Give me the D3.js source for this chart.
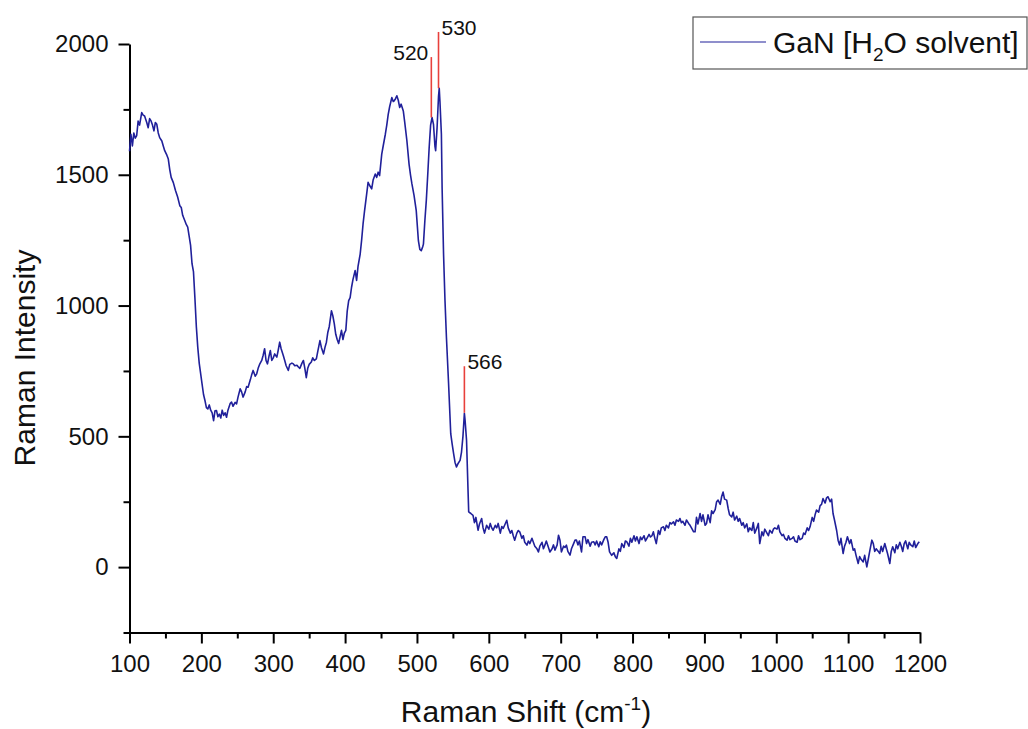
<!DOCTYPE html>
<html><head><meta charset="utf-8">
<script src="https://cdn.jsdelivr.net/npm/d3@7"></script>
<style>
html,body{margin:0;padding:0;background:#fff;}
svg{display:block;font-family:"Liberation Sans",Arial,sans-serif;}
</style></head>
<body><svg id="c" width="1028" height="729"></svg>
<script>
const ramanShift = [100,102,104,106,108,110,112,114,117,119,121,124,126,128,130,132,134,136,138,140,142,145,147,149,152,154,156,158,161,164,167,170,172,174,177,179,181,183,185,187,189,191,193,195,197,199,201,203,205,207,209,211,213,215,217,219,221,223,225,227,229,231,233,235,237,240,242,244,247,249,251,254,256,258,261,263,265,268,270,272,275,277,279,281,284,286,288,290,292,294,296,298,300,302,305,307,309,311,314,316,318,321,323,326,328,330,333,335,337,340,342,344,346,348,350,353,355,357,360,362,365,367,370,372,374,376,378,381,383,385,387,389,391,393,395,397,399,401,403,405,407,409,411,414,416,418,421,423,425,427,430,432,434,437,439,442,444,446,448,451,453,456,458,460,462,465,467,468,470,472,474,476,478,481,483,486,489,491,493,496,499,502,504,506,508,509,511,513,515,517,519,521,523,525,526,528,530,531,532,534,535,537,539,541,544,547,549,551,553,555,557,560,562,564,566,567,569,571,572,575,578,580,582,585,587,590,592,594,597,600,602,604,606,609,611,613,616,618,620,622,625,627,630,632,634,636,639,641,643,646,648,650,653,655,657,660,662,664,667,669,671,674,676,678,680,683,685,688,690,692,695,697,699,701,704,706,708,710,713,715,718,720,722,724,726,729,731,734,736,738,741,743,746,748,750,753,755,757,760,762,764,766,768,771,774,776,778,781,783,785,788,790,792,795,797,799,802,804,806,809,811,813,816,818,820,823,825,827,829,831,833,836,838,840,843,845,847,850,852,854,857,859,861,864,866,868,870,873,875,878,880,882,885,887,889,891,894,896,898,901,903,905,908,910,912,915,917,919,922,924,926,928,931,933,935,938,940,942,945,947,949,952,954,956,959,961,963,966,968,970,973,975,977,980,982,984,987,989,991,994,996,998,1001,1003,1005,1008,1010,1012,1015,1017,1019,1022,1024,1026,1029,1031,1033,1036,1038,1040,1043,1045,1047,1050,1052,1054,1056,1059,1061,1063,1065,1068,1070,1072,1075,1077,1079,1081,1084,1086,1088,1090,1093,1095,1097,1099,1102,1104,1107,1109,1111,1114,1116,1118,1121,1123,1126,1128,1130,1133,1135,1137,1139,1142,1144,1146,1148,1151,1153,1155,1158,1160,1162,1165,1167,1169,1172,1174,1176,1178,1180,1183,1185,1187,1190,1192,1194,1197,1199];
const intensity = [1590,1655,1610,1660,1640,1650,1705,1690,1738,1728,1725,1700,1680,1715,1706,1690,1668,1700,1693,1660,1642,1629,1610,1592,1575,1560,1520,1490,1470,1440,1415,1382,1375,1345,1324,1310,1300,1265,1230,1160,1130,1030,920,840,780,740,700,660,637,610,605,620,600,590,560,598,599,575,585,570,600,580,590,573,600,625,631,615,630,624,650,682,670,650,670,690,688,715,735,752,730,739,760,775,790,810,835,790,777,805,828,790,800,815,803,830,860,835,809,790,770,752,775,780,777,770,772,765,760,780,790,760,724,760,775,784,800,790,796,825,866,840,815,840,860,898,920,980,960,930,890,870,855,880,905,870,895,905,980,1019,1030,1070,1100,1134,1096,1150,1197,1250,1312,1360,1426,1471,1460,1446,1480,1503,1490,1510,1497,1579,1610,1655,1690,1731,1760,1795,1780,1782,1790,1802,1785,1757,1770,1744,1700,1630,1541,1500,1465,1420,1363,1248,1215,1210,1225,1235,1324,1401,1500,1604,1690,1719,1693,1610,1592,1680,1800,1831,1780,1655,1450,1198,1020,880,702,510,470,434,400,383,395,408,440,500,588,560,485,300,211,205,198,170,190,141,165,186,150,130,160,145,167,150,141,160,150,167,130,155,148,160,179,150,130,140,120,103,130,140,135,110,120,95,84,100,90,110,95,80,70,58,80,95,70,84,100,75,58,70,85,65,84,122,103,58,80,75,84,60,46,70,90,103,103,85,100,58,116,116,90,105,80,95,97,85,100,78,97,85,105,116,116,95,58,45,55,40,33,70,60,90,75,100,97,80,110,95,120,100,116,90,115,105,120,100,110,125,115,120,135,110,90,140,125,150,154,140,160,150,170,165,173,160,180,175,186,170,175,160,180,167,160,150,135,135,190,165,205,175,200,160,167,200,170,215,205,220,250,256,240,270,287,260,256,225,200,192,210,180,195,175,186,160,170,150,165,135,150,140,170,130,150,167,90,135,120,145,130,120,141,130,145,150,145,160,135,120,125,110,103,120,105,110,116,100,95,120,105,110,130,125,150,140,154,190,175,200,218,210,235,240,262,245,265,269,250,260,205,180,140,103,85,110,52,80,95,116,90,105,65,70,45,14,40,30,20,45,1,30,60,103,90,60,70,60,52,80,60,90,70,50,14,60,78,55,85,70,95,80,60,90,100,70,95,85,78,100,75,90,97];

const peakShift = [520, 530, 566];
const peakLabel = ["520", "530", "566"];
const peakBase = [1719, 1831, 590];
const peakTop = [1950, 2046, 768];

const xMajor = [100,200,300,400,500,600,700,800,900,1000,1100,1200];
const xMinor = [150,250,350,450,550,650,750,850,950,1050,1150];
const yMajor = [0,500,1000,1500,2000];
const yMinor = [-250,250,750,1250,1750];

const svg = d3.select("#c");
const x = d3.scaleLinear().domain([100,1200]).range([129.5,920]);
const y = d3.scaleLinear().domain([-250,2000]).range([632.5,44]);
const lineColor = "#20209a";

// axes
const gx = svg.append("g").attr("transform","translate(0,632.5)");
gx.call(d3.axisBottom(x).tickValues(xMajor).tickSize(11).tickSizeOuter(0).tickFormat(d3.format("d")));
const gxm = svg.append("g").attr("transform","translate(0,632.5)");
gxm.call(d3.axisBottom(x).tickValues(xMinor).tickSize(6).tickSizeOuter(0).tickFormat(""));
gxm.select(".domain").remove();

const gy = svg.append("g").attr("transform","translate(129.5,0)");
gy.call(d3.axisLeft(y).tickValues(yMajor).tickSize(11).tickSizeOuter(0).tickFormat(d3.format("d")));
const gym = svg.append("g").attr("transform","translate(129.5,0)");
gym.call(d3.axisLeft(y).tickValues(yMinor).tickSize(6).tickSizeOuter(0).tickFormat(""));
gym.select(".domain").remove();

svg.selectAll(".domain").attr("stroke","#000").attr("stroke-width",2);
svg.selectAll(".tick line").attr("stroke","#000").attr("stroke-width",2);
gx.selectAll(".tick text").attr("font-size",24).attr("font-family","Liberation Sans, Arial, sans-serif").attr("fill","#111").attr("dy","1.05em").attr("y",14);
gy.selectAll(".tick text").attr("font-size",24).attr("font-family","Liberation Sans, Arial, sans-serif").attr("fill","#111").attr("x",-21);

// data line
const pts = ramanShift.map((d,i)=>[d,intensity[i]]);
svg.append("path").datum(pts)
  .attr("fill","none").attr("stroke",lineColor).attr("stroke-width",1.6).attr("stroke-linejoin","round")
  .attr("d", d3.line().x(d=>x(d[0])).y(d=>y(d[1])));

// peak markers
peakShift.forEach((p,i)=>{
  svg.append("line").attr("x1",x(p)).attr("x2",x(p)).attr("y1",y(peakBase[i])).attr("y2",y(peakTop[i]))
    .attr("stroke","#e8403c").attr("stroke-width",1.6);
  const t = svg.append("text").attr("y",y(peakTop[i])+3).attr("font-size",21).attr("fill","#111").text(peakLabel[i]);
  if (i===0) t.attr("x",x(p)-3).attr("text-anchor","end");
  else t.attr("x",x(p)+3).attr("text-anchor","start");
});

// axis titles
svg.append("text").attr("transform","translate(35,358) rotate(-90)").attr("text-anchor","middle")
  .attr("font-size",30).attr("fill","#111").text("Raman Intensity");
const xt = svg.append("text").attr("x",526).attr("y",722).attr("text-anchor","middle").attr("font-size",30).attr("fill","#111");
xt.append("tspan").text("Raman Shift (cm");
xt.append("tspan").attr("font-size",19).attr("dy",-12).text("-1");
xt.append("tspan").attr("dy",12).text(")");

// legend
svg.append("rect").attr("x",693).attr("y",17).attr("width",334).attr("height",52)
  .attr("fill","#fff").attr("stroke","#555").attr("stroke-width",1.2);
svg.append("line").attr("x1",700).attr("x2",766).attr("y1",42).attr("y2",42).attr("stroke",lineColor).attr("stroke-width",1.2);
const lt = svg.append("text").attr("x",773).attr("y",53).attr("font-size",30).attr("fill","#111");
lt.append("tspan").text("GaN [H");
lt.append("tspan").attr("font-size",19).attr("dy",8).text("2");
lt.append("tspan").attr("dy",-8).text("O solvent]");
</script></body></html>
